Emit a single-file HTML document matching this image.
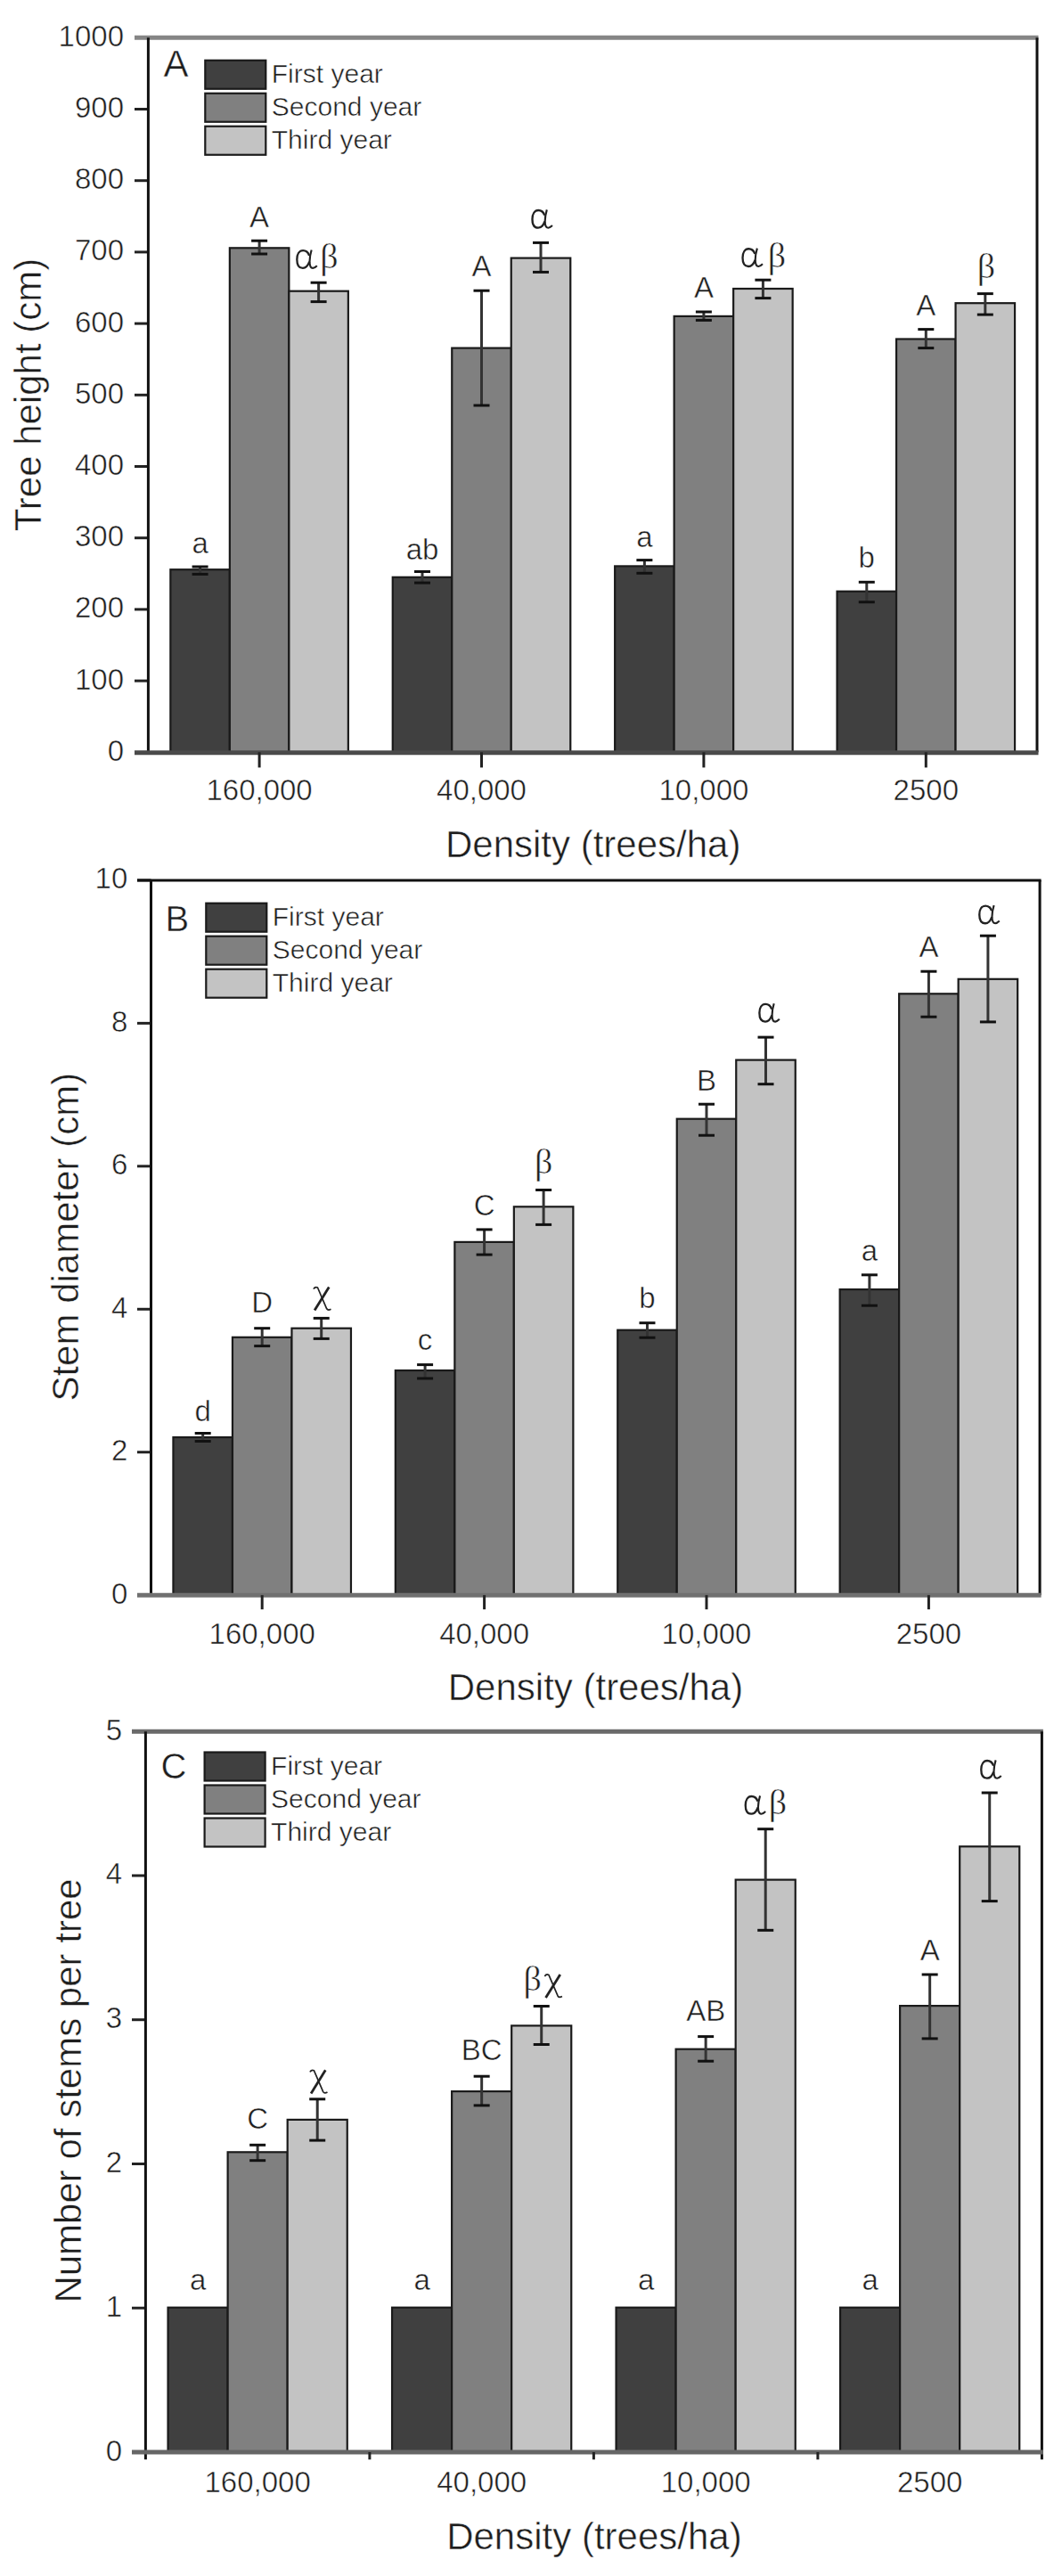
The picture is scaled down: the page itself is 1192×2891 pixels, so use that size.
<!DOCTYPE html>
<html><head><meta charset="utf-8"><style>
html,body{margin:0;padding:0;background:#fff;}
svg{display:block;}
text{fill:#1e1e1e;stroke:#fff;stroke-width:0.5px;paint-order:normal;}
</style></head><body>
<svg width="1192" height="2891" viewBox="0 0 1192 2891">
<rect width="1192" height="2891" fill="#fff"/>
<line x1="151" y1="844.3" x2="166.4" y2="844.3" stroke="#222" stroke-width="3"/>
<text x="139" y="853.8" font-size="33" font-family='"Liberation Sans", sans-serif' text-anchor="end" >0</text>
<line x1="151" y1="764.1" x2="166.4" y2="764.1" stroke="#222" stroke-width="3"/>
<text x="139" y="773.6" font-size="33" font-family='"Liberation Sans", sans-serif' text-anchor="end" >100</text>
<line x1="151" y1="683.9" x2="166.4" y2="683.9" stroke="#222" stroke-width="3"/>
<text x="139" y="693.4" font-size="33" font-family='"Liberation Sans", sans-serif' text-anchor="end" >200</text>
<line x1="151" y1="603.7" x2="166.4" y2="603.7" stroke="#222" stroke-width="3"/>
<text x="139" y="613.2" font-size="33" font-family='"Liberation Sans", sans-serif' text-anchor="end" >300</text>
<line x1="151" y1="523.5" x2="166.4" y2="523.5" stroke="#222" stroke-width="3"/>
<text x="139" y="533" font-size="33" font-family='"Liberation Sans", sans-serif' text-anchor="end" >400</text>
<line x1="151" y1="443.3" x2="166.4" y2="443.3" stroke="#222" stroke-width="3"/>
<text x="139" y="452.8" font-size="33" font-family='"Liberation Sans", sans-serif' text-anchor="end" >500</text>
<line x1="151" y1="363.1" x2="166.4" y2="363.1" stroke="#222" stroke-width="3"/>
<text x="139" y="372.6" font-size="33" font-family='"Liberation Sans", sans-serif' text-anchor="end" >600</text>
<line x1="151" y1="282.9" x2="166.4" y2="282.9" stroke="#222" stroke-width="3"/>
<text x="139" y="292.4" font-size="33" font-family='"Liberation Sans", sans-serif' text-anchor="end" >700</text>
<line x1="151" y1="202.7" x2="166.4" y2="202.7" stroke="#222" stroke-width="3"/>
<text x="139" y="212.2" font-size="33" font-family='"Liberation Sans", sans-serif' text-anchor="end" >800</text>
<line x1="151" y1="122.5" x2="166.4" y2="122.5" stroke="#222" stroke-width="3"/>
<text x="139" y="132" font-size="33" font-family='"Liberation Sans", sans-serif' text-anchor="end" >900</text>
<line x1="151" y1="42.3" x2="166.4" y2="42.3" stroke="#222" stroke-width="3"/>
<text x="139" y="51.8" font-size="33" font-family='"Liberation Sans", sans-serif' text-anchor="end" >1000</text>
<rect x="191.34" y="639.2" width="66.51" height="205.1" fill="#404040" stroke="#1a1a1a" stroke-width="2.2"/>
<rect x="257.85" y="278.3" width="66.51" height="566" fill="#808080" stroke="#1a1a1a" stroke-width="2.2"/>
<rect x="324.35" y="326.7" width="66.51" height="517.6" fill="#c3c3c3" stroke="#1a1a1a" stroke-width="2.2"/>
<line x1="224.59" y1="636" x2="224.59" y2="644.4" stroke="#333" stroke-width="3"/>
<line x1="215.59" y1="636" x2="233.59" y2="636" stroke="#111" stroke-width="3"/>
<line x1="215.59" y1="644.4" x2="233.59" y2="644.4" stroke="#111" stroke-width="3"/>
<text x="224.59" y="621" font-size="33" font-family='"Liberation Sans", sans-serif' text-anchor="middle" >a</text>
<line x1="291.1" y1="270.2" x2="291.1" y2="285" stroke="#333" stroke-width="3"/>
<line x1="282.1" y1="270.2" x2="300.1" y2="270.2" stroke="#111" stroke-width="3"/>
<line x1="282.1" y1="285" x2="300.1" y2="285" stroke="#111" stroke-width="3"/>
<text x="291.1" y="255.4" font-size="33" font-family='"Liberation Sans", sans-serif' text-anchor="middle" >A</text>
<line x1="357.61" y1="317.2" x2="357.61" y2="338.6" stroke="#333" stroke-width="3"/>
<line x1="348.61" y1="317.2" x2="366.61" y2="317.2" stroke="#111" stroke-width="3"/>
<line x1="348.61" y1="338.6" x2="366.61" y2="338.6" stroke="#111" stroke-width="3"/>
<g transform="translate(331,279.9) scale(1.06)" fill="none" stroke="#222"><path d="M15.2 6.5 C13.8 2.6 11.4 1.2 8.6 1.2 C4.6 1.2 2.2 5.2 2.2 10.6 C2.2 16.4 4.6 19.8 8.4 19.8 C11.4 19.8 13.8 17.4 15.4 13" stroke-width="2.2"/><path d="M17.6 0.6 C16.4 4.6 15.6 8.8 15.6 12.8 C15.6 17.2 16.6 19.8 19 19.8 C20.6 19.8 21.8 18.8 23.4 17.2" stroke-width="2"/></g>
<text transform="translate(369.4,301.4)" font-size="40" font-family='"Liberation Serif", serif' text-anchor="middle">β</text>
<rect x="440.74" y="647.8" width="66.51" height="196.5" fill="#404040" stroke="#1a1a1a" stroke-width="2.2"/>
<rect x="507.25" y="390.6" width="66.51" height="453.7" fill="#808080" stroke="#1a1a1a" stroke-width="2.2"/>
<rect x="573.75" y="289.6" width="66.51" height="554.7" fill="#c3c3c3" stroke="#1a1a1a" stroke-width="2.2"/>
<line x1="473.99" y1="641.5" x2="473.99" y2="654.1" stroke="#333" stroke-width="3"/>
<line x1="464.99" y1="641.5" x2="482.99" y2="641.5" stroke="#111" stroke-width="3"/>
<line x1="464.99" y1="654.1" x2="482.99" y2="654.1" stroke="#111" stroke-width="3"/>
<text x="473.99" y="627.8" font-size="33" font-family='"Liberation Sans", sans-serif' text-anchor="middle" >ab</text>
<line x1="540.5" y1="326.2" x2="540.5" y2="455" stroke="#333" stroke-width="3"/>
<line x1="531.5" y1="326.2" x2="549.5" y2="326.2" stroke="#111" stroke-width="3"/>
<line x1="531.5" y1="455" x2="549.5" y2="455" stroke="#111" stroke-width="3"/>
<text x="540.5" y="309.6" font-size="33" font-family='"Liberation Sans", sans-serif' text-anchor="middle" >A</text>
<line x1="607.01" y1="272.4" x2="607.01" y2="305.4" stroke="#333" stroke-width="3"/>
<line x1="598.01" y1="272.4" x2="616.01" y2="272.4" stroke="#111" stroke-width="3"/>
<line x1="598.01" y1="305.4" x2="616.01" y2="305.4" stroke="#111" stroke-width="3"/>
<g transform="translate(595.15,234.7) scale(1.06)" fill="none" stroke="#222"><path d="M15.2 6.5 C13.8 2.6 11.4 1.2 8.6 1.2 C4.6 1.2 2.2 5.2 2.2 10.6 C2.2 16.4 4.6 19.8 8.4 19.8 C11.4 19.8 13.8 17.4 15.4 13" stroke-width="2.2"/><path d="M17.6 0.6 C16.4 4.6 15.6 8.8 15.6 12.8 C15.6 17.2 16.6 19.8 19 19.8 C20.6 19.8 21.8 18.8 23.4 17.2" stroke-width="2"/></g>
<rect x="690.14" y="635.4" width="66.51" height="208.9" fill="#404040" stroke="#1a1a1a" stroke-width="2.2"/>
<rect x="756.65" y="354.9" width="66.51" height="489.4" fill="#808080" stroke="#1a1a1a" stroke-width="2.2"/>
<rect x="823.15" y="324" width="66.51" height="520.3" fill="#c3c3c3" stroke="#1a1a1a" stroke-width="2.2"/>
<line x1="723.39" y1="628.6" x2="723.39" y2="643.3" stroke="#333" stroke-width="3"/>
<line x1="714.39" y1="628.6" x2="732.39" y2="628.6" stroke="#111" stroke-width="3"/>
<line x1="714.39" y1="643.3" x2="732.39" y2="643.3" stroke="#111" stroke-width="3"/>
<text x="723.39" y="614.2" font-size="33" font-family='"Liberation Sans", sans-serif' text-anchor="middle" >a</text>
<line x1="789.9" y1="350" x2="789.9" y2="359.4" stroke="#333" stroke-width="3"/>
<line x1="780.9" y1="350" x2="798.9" y2="350" stroke="#111" stroke-width="3"/>
<line x1="780.9" y1="359.4" x2="798.9" y2="359.4" stroke="#111" stroke-width="3"/>
<text x="789.9" y="333.8" font-size="33" font-family='"Liberation Sans", sans-serif' text-anchor="middle" >A</text>
<line x1="856.41" y1="314.2" x2="856.41" y2="334.6" stroke="#333" stroke-width="3"/>
<line x1="847.41" y1="314.2" x2="865.41" y2="314.2" stroke="#111" stroke-width="3"/>
<line x1="847.41" y1="334.6" x2="865.41" y2="334.6" stroke="#111" stroke-width="3"/>
<g transform="translate(831.2,278) scale(1.06)" fill="none" stroke="#222"><path d="M15.2 6.5 C13.8 2.6 11.4 1.2 8.6 1.2 C4.6 1.2 2.2 5.2 2.2 10.6 C2.2 16.4 4.6 19.8 8.4 19.8 C11.4 19.8 13.8 17.4 15.4 13" stroke-width="2.2"/><path d="M17.6 0.6 C16.4 4.6 15.6 8.8 15.6 12.8 C15.6 17.2 16.6 19.8 19 19.8 C20.6 19.8 21.8 18.8 23.4 17.2" stroke-width="2"/></g>
<text transform="translate(871.8,299.5)" font-size="40" font-family='"Liberation Serif", serif' text-anchor="middle">β</text>
<rect x="939.54" y="663.7" width="66.51" height="180.6" fill="#404040" stroke="#1a1a1a" stroke-width="2.2"/>
<rect x="1006.05" y="380.5" width="66.51" height="463.8" fill="#808080" stroke="#1a1a1a" stroke-width="2.2"/>
<rect x="1072.55" y="340.2" width="66.51" height="504.1" fill="#c3c3c3" stroke="#1a1a1a" stroke-width="2.2"/>
<line x1="972.79" y1="653.3" x2="972.79" y2="675.7" stroke="#333" stroke-width="3"/>
<line x1="963.79" y1="653.3" x2="981.79" y2="653.3" stroke="#111" stroke-width="3"/>
<line x1="963.79" y1="675.7" x2="981.79" y2="675.7" stroke="#111" stroke-width="3"/>
<text x="972.79" y="636.5" font-size="33" font-family='"Liberation Sans", sans-serif' text-anchor="middle" >b</text>
<line x1="1039.3" y1="369.6" x2="1039.3" y2="390.6" stroke="#333" stroke-width="3"/>
<line x1="1030.3" y1="369.6" x2="1048.3" y2="369.6" stroke="#111" stroke-width="3"/>
<line x1="1030.3" y1="390.6" x2="1048.3" y2="390.6" stroke="#111" stroke-width="3"/>
<text x="1039.3" y="354.2" font-size="33" font-family='"Liberation Sans", sans-serif' text-anchor="middle" >A</text>
<line x1="1105.81" y1="329.6" x2="1105.81" y2="353.1" stroke="#333" stroke-width="3"/>
<line x1="1096.81" y1="329.6" x2="1114.81" y2="329.6" stroke="#111" stroke-width="3"/>
<line x1="1096.81" y1="353.1" x2="1114.81" y2="353.1" stroke="#111" stroke-width="3"/>
<text transform="translate(1107,311.6)" font-size="40" font-family='"Liberation Serif", serif' text-anchor="middle">β</text>
<line x1="151" y1="42.3" x2="1165.5" y2="42.3" stroke="#858585" stroke-width="5"/>
<line x1="166.4" y1="42.3" x2="166.4" y2="844.3" stroke="#111" stroke-width="3"/>
<line x1="1164" y1="42.3" x2="1164" y2="844.3" stroke="#111" stroke-width="3"/>
<line x1="151" y1="844.8" x2="1165.5" y2="844.8" stroke="#4a4a4a" stroke-width="5"/>
<line x1="291.1" y1="844.3" x2="291.1" y2="861.4" stroke="#222" stroke-width="3"/>
<line x1="540.5" y1="844.3" x2="540.5" y2="861.4" stroke="#222" stroke-width="3"/>
<line x1="789.9" y1="844.3" x2="789.9" y2="861.4" stroke="#222" stroke-width="3"/>
<line x1="1039.3" y1="844.3" x2="1039.3" y2="861.4" stroke="#222" stroke-width="3"/>
<text x="291.1" y="898" font-size="33" font-family='"Liberation Sans", sans-serif' text-anchor="middle" >160,000</text>
<text x="540.5" y="898" font-size="33" font-family='"Liberation Sans", sans-serif' text-anchor="middle" >40,000</text>
<text x="789.9" y="898" font-size="33" font-family='"Liberation Sans", sans-serif' text-anchor="middle" >10,000</text>
<text x="1039.3" y="898" font-size="33" font-family='"Liberation Sans", sans-serif' text-anchor="middle" >2500</text>
<text x="665.7" y="961.7" font-size="42" font-family='"Liberation Sans", sans-serif' text-anchor="middle" >Density (trees/ha)</text>
<text transform="translate(46.1,443) rotate(-90)" font-size="42" font-family='"Liberation Sans", sans-serif' text-anchor="middle">Tree height (cm)</text>
<text x="183.5" y="85.5" font-size="42" font-family='"Liberation Sans", sans-serif' text-anchor="start" >A</text>
<rect x="230.3" y="67.75" width="68" height="32" fill="#404040" stroke="#1a1a1a" stroke-width="2.2"/>
<text x="304.8" y="93.05" font-size="30" font-family='"Liberation Sans", sans-serif' text-anchor="start" >First year</text>
<rect x="230.3" y="104.75" width="68" height="32" fill="#808080" stroke="#1a1a1a" stroke-width="2.2"/>
<text x="304.8" y="130.05" font-size="30" font-family='"Liberation Sans", sans-serif' text-anchor="start" >Second year</text>
<rect x="230.3" y="141.75" width="68" height="32" fill="#c3c3c3" stroke="#1a1a1a" stroke-width="2.2"/>
<text x="304.8" y="167.05" font-size="30" font-family='"Liberation Sans", sans-serif' text-anchor="start" >Third year</text>
<line x1="154" y1="1790.2" x2="169.5" y2="1790.2" stroke="#222" stroke-width="3"/>
<text x="143.3" y="1799.7" font-size="33" font-family='"Liberation Sans", sans-serif' text-anchor="end" >0</text>
<line x1="154" y1="1629.74" x2="169.5" y2="1629.74" stroke="#222" stroke-width="3"/>
<text x="143.3" y="1639.24" font-size="33" font-family='"Liberation Sans", sans-serif' text-anchor="end" >2</text>
<line x1="154" y1="1469.28" x2="169.5" y2="1469.28" stroke="#222" stroke-width="3"/>
<text x="143.3" y="1478.78" font-size="33" font-family='"Liberation Sans", sans-serif' text-anchor="end" >4</text>
<line x1="154" y1="1308.82" x2="169.5" y2="1308.82" stroke="#222" stroke-width="3"/>
<text x="143.3" y="1318.32" font-size="33" font-family='"Liberation Sans", sans-serif' text-anchor="end" >6</text>
<line x1="154" y1="1148.36" x2="169.5" y2="1148.36" stroke="#222" stroke-width="3"/>
<text x="143.3" y="1157.86" font-size="33" font-family='"Liberation Sans", sans-serif' text-anchor="end" >8</text>
<line x1="154" y1="987.9" x2="169.5" y2="987.9" stroke="#222" stroke-width="3"/>
<text x="143.3" y="997.4" font-size="33" font-family='"Liberation Sans", sans-serif' text-anchor="end" >10</text>
<rect x="194.44" y="1613" width="66.51" height="177.2" fill="#404040" stroke="#1a1a1a" stroke-width="2.2"/>
<rect x="260.95" y="1500.8" width="66.51" height="289.4" fill="#808080" stroke="#1a1a1a" stroke-width="2.2"/>
<rect x="327.45" y="1490.7" width="66.51" height="299.5" fill="#c3c3c3" stroke="#1a1a1a" stroke-width="2.2"/>
<line x1="227.69" y1="1608.5" x2="227.69" y2="1617.5" stroke="#333" stroke-width="3"/>
<line x1="218.69" y1="1608.5" x2="236.69" y2="1608.5" stroke="#111" stroke-width="3"/>
<line x1="218.69" y1="1617.5" x2="236.69" y2="1617.5" stroke="#111" stroke-width="3"/>
<text x="227.69" y="1594.9" font-size="33" font-family='"Liberation Sans", sans-serif' text-anchor="middle" >d</text>
<line x1="294.2" y1="1490.7" x2="294.2" y2="1510.6" stroke="#333" stroke-width="3"/>
<line x1="285.2" y1="1490.7" x2="303.2" y2="1490.7" stroke="#111" stroke-width="3"/>
<line x1="285.2" y1="1510.6" x2="303.2" y2="1510.6" stroke="#111" stroke-width="3"/>
<text x="294.2" y="1472.9" font-size="33" font-family='"Liberation Sans", sans-serif' text-anchor="middle" >D</text>
<line x1="360.71" y1="1479.4" x2="360.71" y2="1502.4" stroke="#333" stroke-width="3"/>
<line x1="351.71" y1="1479.4" x2="369.71" y2="1479.4" stroke="#111" stroke-width="3"/>
<line x1="351.71" y1="1502.4" x2="369.71" y2="1502.4" stroke="#111" stroke-width="3"/>
<g transform="translate(351.5,1443.6)" fill="none" stroke="#222"><path d="M1.6 27 L17.8 0.9" stroke-width="2.8"/><path d="M0.4 3 Q2.2 0 5 1.4 L15.2 25.2 Q16.6 27.4 20 25.6" stroke-width="1.7"/></g>
<rect x="443.84" y="1538" width="66.51" height="252.2" fill="#404040" stroke="#1a1a1a" stroke-width="2.2"/>
<rect x="510.35" y="1393.9" width="66.51" height="396.3" fill="#808080" stroke="#1a1a1a" stroke-width="2.2"/>
<rect x="576.85" y="1354.3" width="66.51" height="435.9" fill="#c3c3c3" stroke="#1a1a1a" stroke-width="2.2"/>
<line x1="477.09" y1="1531.6" x2="477.09" y2="1547" stroke="#333" stroke-width="3"/>
<line x1="468.09" y1="1531.6" x2="486.09" y2="1531.6" stroke="#111" stroke-width="3"/>
<line x1="468.09" y1="1547" x2="486.09" y2="1547" stroke="#111" stroke-width="3"/>
<text x="477.09" y="1515" font-size="33" font-family='"Liberation Sans", sans-serif' text-anchor="middle" >c</text>
<line x1="543.6" y1="1379.9" x2="543.6" y2="1408.1" stroke="#333" stroke-width="3"/>
<line x1="534.6" y1="1379.9" x2="552.6" y2="1379.9" stroke="#111" stroke-width="3"/>
<line x1="534.6" y1="1408.1" x2="552.6" y2="1408.1" stroke="#111" stroke-width="3"/>
<text x="543.6" y="1364.2" font-size="33" font-family='"Liberation Sans", sans-serif' text-anchor="middle" >C</text>
<line x1="610.11" y1="1335.5" x2="610.11" y2="1374.4" stroke="#333" stroke-width="3"/>
<line x1="601.11" y1="1335.5" x2="619.11" y2="1335.5" stroke="#111" stroke-width="3"/>
<line x1="601.11" y1="1374.4" x2="619.11" y2="1374.4" stroke="#111" stroke-width="3"/>
<text transform="translate(610.2,1317.1)" font-size="40" font-family='"Liberation Serif", serif' text-anchor="middle">β</text>
<rect x="693.24" y="1492.7" width="66.51" height="297.5" fill="#404040" stroke="#1a1a1a" stroke-width="2.2"/>
<rect x="759.75" y="1255.7" width="66.51" height="534.5" fill="#808080" stroke="#1a1a1a" stroke-width="2.2"/>
<rect x="826.25" y="1189.6" width="66.51" height="600.6" fill="#c3c3c3" stroke="#1a1a1a" stroke-width="2.2"/>
<line x1="726.49" y1="1484.7" x2="726.49" y2="1501.2" stroke="#333" stroke-width="3"/>
<line x1="717.49" y1="1484.7" x2="735.49" y2="1484.7" stroke="#111" stroke-width="3"/>
<line x1="717.49" y1="1501.2" x2="735.49" y2="1501.2" stroke="#111" stroke-width="3"/>
<text x="726.49" y="1468.1" font-size="33" font-family='"Liberation Sans", sans-serif' text-anchor="middle" >b</text>
<line x1="793" y1="1239.2" x2="793" y2="1274.2" stroke="#333" stroke-width="3"/>
<line x1="784" y1="1239.2" x2="802" y2="1239.2" stroke="#111" stroke-width="3"/>
<line x1="784" y1="1274.2" x2="802" y2="1274.2" stroke="#111" stroke-width="3"/>
<text x="793" y="1223.6" font-size="33" font-family='"Liberation Sans", sans-serif' text-anchor="middle" >B</text>
<line x1="859.51" y1="1164.1" x2="859.51" y2="1216.7" stroke="#333" stroke-width="3"/>
<line x1="850.51" y1="1164.1" x2="868.51" y2="1164.1" stroke="#111" stroke-width="3"/>
<line x1="850.51" y1="1216.7" x2="868.51" y2="1216.7" stroke="#111" stroke-width="3"/>
<g transform="translate(850.05,1125.6) scale(1.06)" fill="none" stroke="#222"><path d="M15.2 6.5 C13.8 2.6 11.4 1.2 8.6 1.2 C4.6 1.2 2.2 5.2 2.2 10.6 C2.2 16.4 4.6 19.8 8.4 19.8 C11.4 19.8 13.8 17.4 15.4 13" stroke-width="2.2"/><path d="M17.6 0.6 C16.4 4.6 15.6 8.8 15.6 12.8 C15.6 17.2 16.6 19.8 19 19.8 C20.6 19.8 21.8 18.8 23.4 17.2" stroke-width="2"/></g>
<rect x="942.64" y="1447.1" width="66.51" height="343.1" fill="#404040" stroke="#1a1a1a" stroke-width="2.2"/>
<rect x="1009.15" y="1115.3" width="66.51" height="674.9" fill="#808080" stroke="#1a1a1a" stroke-width="2.2"/>
<rect x="1075.65" y="1098.8" width="66.51" height="691.4" fill="#c3c3c3" stroke="#1a1a1a" stroke-width="2.2"/>
<line x1="975.89" y1="1430.8" x2="975.89" y2="1465.2" stroke="#333" stroke-width="3"/>
<line x1="966.89" y1="1430.8" x2="984.89" y2="1430.8" stroke="#111" stroke-width="3"/>
<line x1="966.89" y1="1465.2" x2="984.89" y2="1465.2" stroke="#111" stroke-width="3"/>
<text x="975.89" y="1414.9" font-size="33" font-family='"Liberation Sans", sans-serif' text-anchor="middle" >a</text>
<line x1="1042.4" y1="1090.2" x2="1042.4" y2="1141.2" stroke="#333" stroke-width="3"/>
<line x1="1033.4" y1="1090.2" x2="1051.4" y2="1090.2" stroke="#111" stroke-width="3"/>
<line x1="1033.4" y1="1141.2" x2="1051.4" y2="1141.2" stroke="#111" stroke-width="3"/>
<text x="1042.4" y="1074.2" font-size="33" font-family='"Liberation Sans", sans-serif' text-anchor="middle" >A</text>
<line x1="1108.91" y1="1050.2" x2="1108.91" y2="1146.9" stroke="#333" stroke-width="3"/>
<line x1="1099.91" y1="1050.2" x2="1117.91" y2="1050.2" stroke="#111" stroke-width="3"/>
<line x1="1099.91" y1="1146.9" x2="1117.91" y2="1146.9" stroke="#111" stroke-width="3"/>
<g transform="translate(1096.95,1015.3) scale(1.06)" fill="none" stroke="#222"><path d="M15.2 6.5 C13.8 2.6 11.4 1.2 8.6 1.2 C4.6 1.2 2.2 5.2 2.2 10.6 C2.2 16.4 4.6 19.8 8.4 19.8 C11.4 19.8 13.8 17.4 15.4 13" stroke-width="2.2"/><path d="M17.6 0.6 C16.4 4.6 15.6 8.8 15.6 12.8 C15.6 17.2 16.6 19.8 19 19.8 C20.6 19.8 21.8 18.8 23.4 17.2" stroke-width="2"/></g>
<line x1="154" y1="987.9" x2="1168.6" y2="987.9" stroke="#111" stroke-width="3"/>
<line x1="169.5" y1="987.9" x2="169.5" y2="1790.2" stroke="#111" stroke-width="3"/>
<line x1="1167.1" y1="987.9" x2="1167.1" y2="1790.2" stroke="#111" stroke-width="3"/>
<line x1="154" y1="1790.2" x2="1168.6" y2="1790.2" stroke="#707070" stroke-width="5"/>
<line x1="294.2" y1="1790.2" x2="294.2" y2="1806.2" stroke="#222" stroke-width="3"/>
<line x1="543.6" y1="1790.2" x2="543.6" y2="1806.2" stroke="#222" stroke-width="3"/>
<line x1="793" y1="1790.2" x2="793" y2="1806.2" stroke="#222" stroke-width="3"/>
<line x1="1042.4" y1="1790.2" x2="1042.4" y2="1806.2" stroke="#222" stroke-width="3"/>
<text x="294.2" y="1844.6" font-size="33" font-family='"Liberation Sans", sans-serif' text-anchor="middle" >160,000</text>
<text x="543.6" y="1844.6" font-size="33" font-family='"Liberation Sans", sans-serif' text-anchor="middle" >40,000</text>
<text x="793" y="1844.6" font-size="33" font-family='"Liberation Sans", sans-serif' text-anchor="middle" >10,000</text>
<text x="1042.4" y="1844.6" font-size="33" font-family='"Liberation Sans", sans-serif' text-anchor="middle" >2500</text>
<text x="668.5" y="1907.5" font-size="42" font-family='"Liberation Sans", sans-serif' text-anchor="middle" >Density (trees/ha)</text>
<text transform="translate(87.9,1388.2) rotate(-90)" font-size="42" font-family='"Liberation Sans", sans-serif' text-anchor="middle">Stem diameter (cm)</text>
<text x="185.5" y="1045" font-size="40" font-family='"Liberation Sans", sans-serif' text-anchor="start" >B</text>
<rect x="231.3" y="1013.7" width="68" height="32" fill="#404040" stroke="#1a1a1a" stroke-width="2.2"/>
<text x="305.8" y="1039" font-size="30" font-family='"Liberation Sans", sans-serif' text-anchor="start" >First year</text>
<rect x="231.3" y="1050.7" width="68" height="32" fill="#808080" stroke="#1a1a1a" stroke-width="2.2"/>
<text x="305.8" y="1076" font-size="30" font-family='"Liberation Sans", sans-serif' text-anchor="start" >Second year</text>
<rect x="231.3" y="1087.7" width="68" height="32" fill="#c3c3c3" stroke="#1a1a1a" stroke-width="2.2"/>
<text x="305.8" y="1113" font-size="30" font-family='"Liberation Sans", sans-serif' text-anchor="start" >Third year</text>
<line x1="148" y1="2752" x2="163.4" y2="2752" stroke="#222" stroke-width="3"/>
<text x="137" y="2761.5" font-size="33" font-family='"Liberation Sans", sans-serif' text-anchor="end" >0</text>
<line x1="148" y1="2590.24" x2="163.4" y2="2590.24" stroke="#222" stroke-width="3"/>
<text x="137" y="2599.74" font-size="33" font-family='"Liberation Sans", sans-serif' text-anchor="end" >1</text>
<line x1="148" y1="2428.48" x2="163.4" y2="2428.48" stroke="#222" stroke-width="3"/>
<text x="137" y="2437.98" font-size="33" font-family='"Liberation Sans", sans-serif' text-anchor="end" >2</text>
<line x1="148" y1="2266.72" x2="163.4" y2="2266.72" stroke="#222" stroke-width="3"/>
<text x="137" y="2276.22" font-size="33" font-family='"Liberation Sans", sans-serif' text-anchor="end" >3</text>
<line x1="148" y1="2104.96" x2="163.4" y2="2104.96" stroke="#222" stroke-width="3"/>
<text x="137" y="2114.46" font-size="33" font-family='"Liberation Sans", sans-serif' text-anchor="end" >4</text>
<line x1="148" y1="1943.2" x2="163.4" y2="1943.2" stroke="#222" stroke-width="3"/>
<text x="137" y="1952.7" font-size="33" font-family='"Liberation Sans", sans-serif' text-anchor="end" >5</text>
<rect x="188.55" y="2589.7" width="67.07" height="162.3" fill="#404040" stroke="#1a1a1a" stroke-width="2.2"/>
<rect x="255.62" y="2415.3" width="67.07" height="336.7" fill="#808080" stroke="#1a1a1a" stroke-width="2.2"/>
<rect x="322.68" y="2378.9" width="67.07" height="373.1" fill="#c3c3c3" stroke="#1a1a1a" stroke-width="2.2"/>
<text x="222.08" y="2569.7" font-size="33" font-family='"Liberation Sans", sans-serif' text-anchor="middle" >a</text>
<line x1="289.15" y1="2407.3" x2="289.15" y2="2424.7" stroke="#333" stroke-width="3"/>
<line x1="280.15" y1="2407.3" x2="298.15" y2="2407.3" stroke="#111" stroke-width="3"/>
<line x1="280.15" y1="2424.7" x2="298.15" y2="2424.7" stroke="#111" stroke-width="3"/>
<text x="289.15" y="2388.9" font-size="33" font-family='"Liberation Sans", sans-serif' text-anchor="middle" >C</text>
<line x1="356.22" y1="2355.8" x2="356.22" y2="2402.1" stroke="#333" stroke-width="3"/>
<line x1="347.22" y1="2355.8" x2="365.22" y2="2355.8" stroke="#111" stroke-width="3"/>
<line x1="347.22" y1="2402.1" x2="365.22" y2="2402.1" stroke="#111" stroke-width="3"/>
<g transform="translate(347.5,2322.4)" fill="none" stroke="#222"><path d="M1.6 27 L17.8 0.9" stroke-width="2.8"/><path d="M0.4 3 Q2.2 0 5 1.4 L15.2 25.2 Q16.6 27.4 20 25.6" stroke-width="1.7"/></g>
<rect x="440.05" y="2589.7" width="67.07" height="162.3" fill="#404040" stroke="#1a1a1a" stroke-width="2.2"/>
<rect x="507.12" y="2347.1" width="67.07" height="404.9" fill="#808080" stroke="#1a1a1a" stroke-width="2.2"/>
<rect x="574.18" y="2273.4" width="67.07" height="478.6" fill="#c3c3c3" stroke="#1a1a1a" stroke-width="2.2"/>
<text x="473.58" y="2569.7" font-size="33" font-family='"Liberation Sans", sans-serif' text-anchor="middle" >a</text>
<line x1="540.65" y1="2330.2" x2="540.65" y2="2362.9" stroke="#333" stroke-width="3"/>
<line x1="531.65" y1="2330.2" x2="549.65" y2="2330.2" stroke="#111" stroke-width="3"/>
<line x1="531.65" y1="2362.9" x2="549.65" y2="2362.9" stroke="#111" stroke-width="3"/>
<text x="540.65" y="2312.2" font-size="33" font-family='"Liberation Sans", sans-serif' text-anchor="middle" >BC</text>
<line x1="607.72" y1="2251.5" x2="607.72" y2="2294.5" stroke="#333" stroke-width="3"/>
<line x1="598.72" y1="2251.5" x2="616.72" y2="2251.5" stroke="#111" stroke-width="3"/>
<line x1="598.72" y1="2294.5" x2="616.72" y2="2294.5" stroke="#111" stroke-width="3"/>
<text transform="translate(597.7,2233.6)" font-size="40" font-family='"Liberation Serif", serif' text-anchor="middle">β</text>
<g transform="translate(610.95,2215)" fill="none" stroke="#222"><path d="M1.6 27 L17.8 0.9" stroke-width="2.8"/><path d="M0.4 3 Q2.2 0 5 1.4 L15.2 25.2 Q16.6 27.4 20 25.6" stroke-width="1.7"/></g>
<rect x="691.55" y="2589.7" width="67.07" height="162.3" fill="#404040" stroke="#1a1a1a" stroke-width="2.2"/>
<rect x="758.62" y="2299.7" width="67.07" height="452.3" fill="#808080" stroke="#1a1a1a" stroke-width="2.2"/>
<rect x="825.68" y="2109.6" width="67.07" height="642.4" fill="#c3c3c3" stroke="#1a1a1a" stroke-width="2.2"/>
<text x="725.08" y="2569.7" font-size="33" font-family='"Liberation Sans", sans-serif' text-anchor="middle" >a</text>
<line x1="792.15" y1="2285.6" x2="792.15" y2="2313.2" stroke="#333" stroke-width="3"/>
<line x1="783.15" y1="2285.6" x2="801.15" y2="2285.6" stroke="#111" stroke-width="3"/>
<line x1="783.15" y1="2313.2" x2="801.15" y2="2313.2" stroke="#111" stroke-width="3"/>
<text x="792.15" y="2268.4" font-size="33" font-family='"Liberation Sans", sans-serif' text-anchor="middle" >AB</text>
<line x1="859.22" y1="2052.7" x2="859.22" y2="2166.3" stroke="#333" stroke-width="3"/>
<line x1="850.22" y1="2052.7" x2="868.22" y2="2052.7" stroke="#111" stroke-width="3"/>
<line x1="850.22" y1="2166.3" x2="868.22" y2="2166.3" stroke="#111" stroke-width="3"/>
<g transform="translate(834.4,2014.7) scale(1.06)" fill="none" stroke="#222"><path d="M15.2 6.5 C13.8 2.6 11.4 1.2 8.6 1.2 C4.6 1.2 2.2 5.2 2.2 10.6 C2.2 16.4 4.6 19.8 8.4 19.8 C11.4 19.8 13.8 17.4 15.4 13" stroke-width="2.2"/><path d="M17.6 0.6 C16.4 4.6 15.6 8.8 15.6 12.8 C15.6 17.2 16.6 19.8 19 19.8 C20.6 19.8 21.8 18.8 23.4 17.2" stroke-width="2"/></g>
<text transform="translate(872.8,2036.2)" font-size="40" font-family='"Liberation Serif", serif' text-anchor="middle">β</text>
<rect x="943.05" y="2589.7" width="67.07" height="162.3" fill="#404040" stroke="#1a1a1a" stroke-width="2.2"/>
<rect x="1010.12" y="2251.1" width="67.07" height="500.9" fill="#808080" stroke="#1a1a1a" stroke-width="2.2"/>
<rect x="1077.18" y="2072.3" width="67.07" height="679.7" fill="#c3c3c3" stroke="#1a1a1a" stroke-width="2.2"/>
<text x="976.58" y="2569.7" font-size="33" font-family='"Liberation Sans", sans-serif' text-anchor="middle" >a</text>
<line x1="1043.65" y1="2216" x2="1043.65" y2="2287.9" stroke="#333" stroke-width="3"/>
<line x1="1034.65" y1="2216" x2="1052.65" y2="2216" stroke="#111" stroke-width="3"/>
<line x1="1034.65" y1="2287.9" x2="1052.65" y2="2287.9" stroke="#111" stroke-width="3"/>
<text x="1043.65" y="2200.1" font-size="33" font-family='"Liberation Sans", sans-serif' text-anchor="middle" >A</text>
<line x1="1110.72" y1="2012" x2="1110.72" y2="2133.6" stroke="#333" stroke-width="3"/>
<line x1="1101.72" y1="2012" x2="1119.72" y2="2012" stroke="#111" stroke-width="3"/>
<line x1="1101.72" y1="2133.6" x2="1119.72" y2="2133.6" stroke="#111" stroke-width="3"/>
<g transform="translate(1098.95,1974.7) scale(1.06)" fill="none" stroke="#222"><path d="M15.2 6.5 C13.8 2.6 11.4 1.2 8.6 1.2 C4.6 1.2 2.2 5.2 2.2 10.6 C2.2 16.4 4.6 19.8 8.4 19.8 C11.4 19.8 13.8 17.4 15.4 13" stroke-width="2.2"/><path d="M17.6 0.6 C16.4 4.6 15.6 8.8 15.6 12.8 C15.6 17.2 16.6 19.8 19 19.8 C20.6 19.8 21.8 18.8 23.4 17.2" stroke-width="2"/></g>
<line x1="148" y1="1943.2" x2="1170.9" y2="1943.2" stroke="#6a6a6a" stroke-width="5"/>
<line x1="163.4" y1="1943.2" x2="163.4" y2="2760.3" stroke="#111" stroke-width="3"/>
<line x1="1169.4" y1="1943.2" x2="1169.4" y2="2760.3" stroke="#111" stroke-width="3"/>
<line x1="148" y1="2752" x2="1170.9" y2="2752" stroke="#666" stroke-width="5"/>
<line x1="414.9" y1="2752" x2="414.9" y2="2760.3" stroke="#222" stroke-width="3"/>
<line x1="666.4" y1="2752" x2="666.4" y2="2760.3" stroke="#222" stroke-width="3"/>
<line x1="917.9" y1="2752" x2="917.9" y2="2760.3" stroke="#222" stroke-width="3"/>
<text x="289.15" y="2797" font-size="33" font-family='"Liberation Sans", sans-serif' text-anchor="middle" >160,000</text>
<text x="540.65" y="2797" font-size="33" font-family='"Liberation Sans", sans-serif' text-anchor="middle" >40,000</text>
<text x="792.15" y="2797" font-size="33" font-family='"Liberation Sans", sans-serif' text-anchor="middle" >10,000</text>
<text x="1043.65" y="2797" font-size="33" font-family='"Liberation Sans", sans-serif' text-anchor="middle" >2500</text>
<text x="666.9" y="2861" font-size="42" font-family='"Liberation Sans", sans-serif' text-anchor="middle" >Density (trees/ha)</text>
<text transform="translate(91,2346.5) rotate(-90)" font-size="42" font-family='"Liberation Sans", sans-serif' text-anchor="middle">Number of stems per tree</text>
<text x="180.5" y="1995.5" font-size="40" font-family='"Liberation Sans", sans-serif' text-anchor="start" >C</text>
<rect x="229.6" y="1966.5" width="68" height="32" fill="#404040" stroke="#1a1a1a" stroke-width="2.2"/>
<text x="304.1" y="1991.8" font-size="30" font-family='"Liberation Sans", sans-serif' text-anchor="start" >First year</text>
<rect x="229.6" y="2003.5" width="68" height="32" fill="#808080" stroke="#1a1a1a" stroke-width="2.2"/>
<text x="304.1" y="2028.8" font-size="30" font-family='"Liberation Sans", sans-serif' text-anchor="start" >Second year</text>
<rect x="229.6" y="2040.5" width="68" height="32" fill="#c3c3c3" stroke="#1a1a1a" stroke-width="2.2"/>
<text x="304.1" y="2065.8" font-size="30" font-family='"Liberation Sans", sans-serif' text-anchor="start" >Third year</text>
</svg></body></html>
